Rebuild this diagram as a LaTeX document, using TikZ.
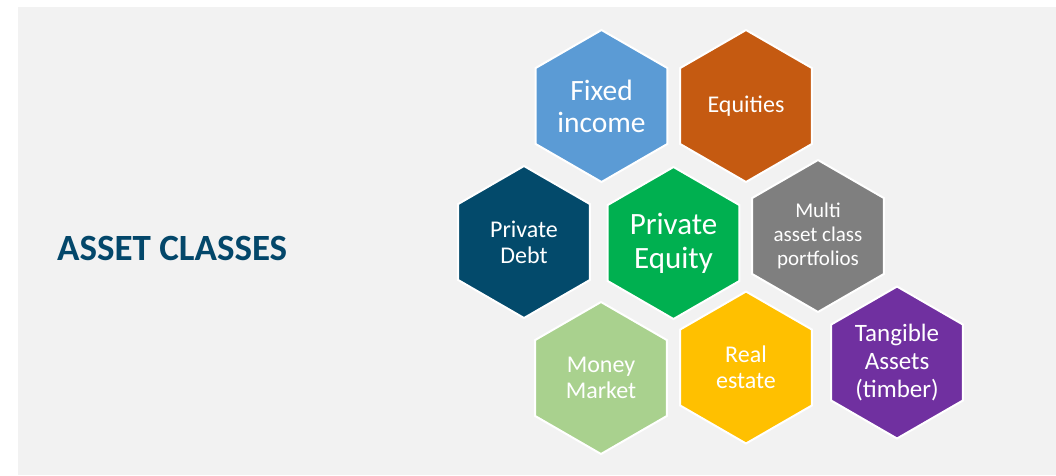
\documentclass[tikz,border=0pt]{standalone}
\usepackage{fontspec}
\setmainfont{Carlito}
\usetikzlibrary{shapes.geometric}
\definecolor{bggray}{HTML}{F2F2F2}
\definecolor{titleblue}{HTML}{03476A}
\definecolor{fixedblue}{HTML}{5B9BD5}
\definecolor{equitybrown}{HTML}{C55A11}
\definecolor{debtblue}{HTML}{034A6B}
\definecolor{pegreen}{HTML}{00B050}
\definecolor{multigray}{HTML}{7F7F7F}
\definecolor{moneygreen}{HTML}{A9D18E}
\definecolor{realyellow}{HTML}{FFC000}
\definecolor{tangpurple}{HTML}{7030A0}
\tikzset{hex/.style={regular polygon, regular polygon sides=6, shape border rotate=30,
    minimum size=152pt, inner sep=0pt, draw=white, line width=2pt, text=white, align=center}}

\begin{document}
\begin{tikzpicture}[x=1pt,y=-1pt]
      \useasboundingbox (0,0) rectangle (1056,475);
      \fill[bggray] (18,7) rectangle (1056,475);
      \node[anchor=base west, inner sep=0pt, text=titleblue,
        font=\bfseries\fontsize{37}{40}\selectfont] (title) at (57,260) {ASSET CLASSES};
      % top row
      \node[hex, fill=fixedblue, font=\fontsize{29.5}{32}\selectfont] (fixed) at (601.5,106) {Fixed\\income};
      \node[hex, fill=equitybrown, font=\fontsize{24}{26}\selectfont] (equities) at (746,106) {Equities};
      % middle row
      \node[hex, fill=debtblue, font=\fontsize{24}{26}\selectfont] (debt) at (524,242) {Private\\Debt};
      \node[hex, fill=pegreen, font=\fontsize{31}{34}\selectfont] (pe) at (673.5,243) {Private\\Equity};
      \node[hex, fill=multigray, font=\fontsize{21}{24}\selectfont] (multi) at (818,236) {Multi\\asset class\\portfolios};
      % bottom row
      \node[hex, fill=moneygreen, font=\fontsize{24}{26}\selectfont] (money) at (601,378) {Money\\Market};
      \node[hex, fill=realyellow, font=\fontsize{24}{26}\selectfont] (real) at (746,367.5) {Real\\estate};
      \node[hex, fill=tangpurple, font=\fontsize{25}{28}\selectfont] (tangible) at (897,362.5) {Tangible\\Assets\\(timber)};
    \end{tikzpicture}
\end{document}
